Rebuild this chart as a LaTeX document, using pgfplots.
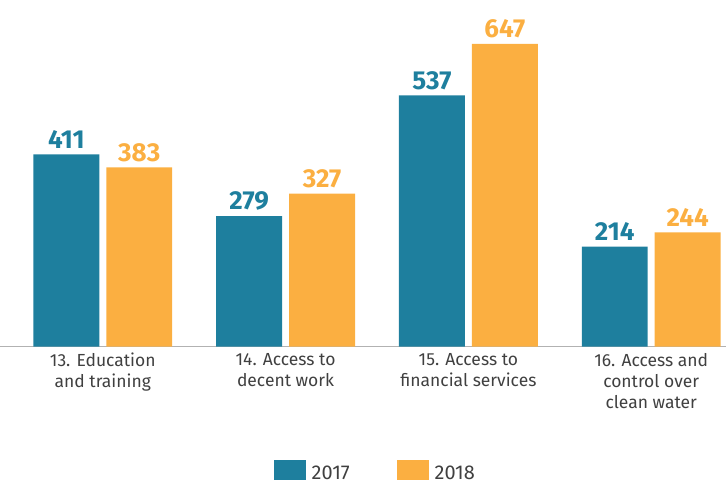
\documentclass[border=0pt]{standalone}
\usepackage{fontspec}
\setmainfont{Fira Sans}
\usepackage{pgfplots}
\pgfplotsset{compat=1.18}
\definecolor{teal17}{HTML}{1E7F9E}
\definecolor{orange18}{HTML}{FBAF41}
\definecolor{txtgray}{HTML}{404040}
\begin{document}
\begin{tikzpicture}
\begin{axis}[
  at={(0pt,0pt)}, anchor=south west,
  scale only axis,
  width=726pt, height=347pt,
  ymin=0, ymax=741,
  xmin=-0.560, xmax=3.407,
  ybar=7pt, bar width=66pt,
  axis y line=none,
  axis x line*=bottom,
  x axis line style={draw=black!30, line width=0.8pt, -},
  xtick={0,1,2,3},
  xticklabels={{13. Education\\and training},{14. Access to\\decent work},{15. Access to\\financial services},{16. Access and\\control over\\clean water}},
  xticklabel style={align=center, font=\fontsize{17.5}{21}\selectfont, text=txtgray, yshift=-3pt},
  major tick length=0pt,
  /pgf/number format/assume math mode=true,
  nodes near coords,
  every node near coord/.append style={font=\fontsize{26}{28}\selectfont\bfseries, yshift=2pt},
  legend style={at={(0.517,-0.322)}, anchor=north, draw=none, legend columns=2,
    font=\fontsize{20}{22}\selectfont, text=txtgray,
    /tikz/every odd column/.append style={column sep=4pt},
    /tikz/every even column/.append style={column sep=45pt}},
  legend image code/.code={\fill[#1] (0pt,-7pt) rectangle (32pt,13pt);},
]
\addplot[fill=teal17, draw=none, nodes near coords style={text=teal17}] coordinates {(0,411) (1,279) (2,537) (3,214)};
\addplot[fill=orange18, draw=none, nodes near coords style={text=orange18}] coordinates {(0,383) (1,327) (2,647) (3,244)};
\legend{2017,2018}
\end{axis}
\path[use as bounding box] (0pt,-132pt) rectangle (726pt,347pt);
\end{tikzpicture}
\end{document}
